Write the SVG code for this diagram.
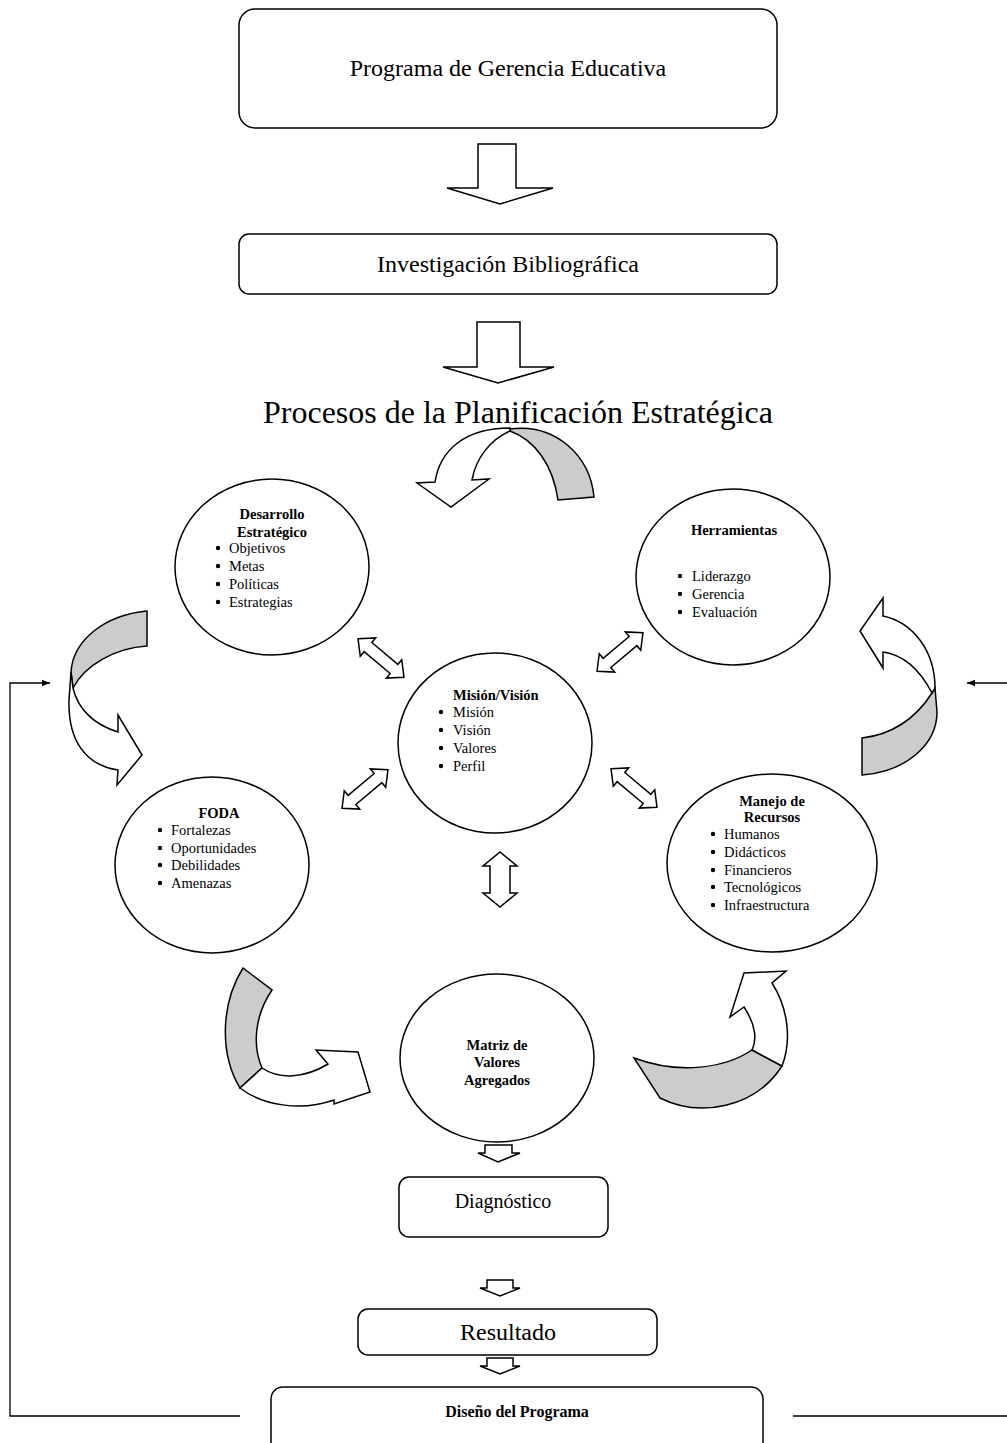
<svg xmlns="http://www.w3.org/2000/svg" width="1007" height="1443" viewBox="0 0 1007 1443">
<defs>
<style>
.box{fill:#fff;stroke:#000;stroke-width:1.5}
.circ{fill:#fff;stroke:#000;stroke-width:1.5}
.blk{fill:#fff;stroke:#000;stroke-width:1.5;stroke-linejoin:miter}
.gray{fill:#cccccc;stroke:#000;stroke-width:1.5}
.t{font-family:"Liberation Serif","Times New Roman",serif;fill:#000}
.c{font-size:14.5px}
.b{font-weight:bold}
.line{fill:none;stroke:#000;stroke-width:1.3}
</style>
<path id="dbl" d="M-30,0 L-17,-12 L-17,-6 L17,-6 L17,-12 L30,0 L17,12 L17,6 L-17,6 L-17,12 Z"/>
<marker id="ah" viewBox="0 0 10 10" refX="10" refY="5" markerWidth="8" markerHeight="8" orient="auto" markerUnits="userSpaceOnUse"><path d="M0,1 L10,5 L0,9 Z" fill="#000"/></marker>
</defs>
<rect width="1007" height="1443" fill="#fff"/>

<g id="n-programa">
<rect class="box" x="239" y="9" width="538" height="119" rx="16"/>
<text class="t" x="508" y="76" font-size="24" text-anchor="middle">Programa de Gerencia Educativa</text>
</g>
<g id="n-investigacion">
<rect class="box" x="239" y="234" width="538" height="60" rx="10"/>
<text class="t" x="508" y="272" font-size="24" text-anchor="middle">Investigación Bibliográfica</text>
</g>
<g id="n-titulo">
<text class="t" x="518" y="423" font-size="32" text-anchor="middle">Procesos de la Planificación Estratégica</text>
</g>

<g id="n-desarrollo">
<ellipse class="circ" cx="272" cy="567" rx="97" ry="88"/>
<text class="t c b" x="272" y="519" text-anchor="middle">Desarrollo</text>
<text class="t c b" x="272" y="537" text-anchor="middle">Estratégico</text>
<g class="t c"><text x="229" y="553">Objetivos</text><text x="229" y="571">Metas</text><text x="229" y="589">Políticas</text><text x="229" y="607">Estrategias</text></g>
<g fill="#000"><circle cx="218" cy="548" r="2.2"/><circle cx="218" cy="566" r="2.2"/><circle cx="218" cy="584" r="2.2"/><circle cx="218" cy="602" r="2.2"/></g>
</g>

<g id="n-herramientas">
<ellipse class="circ" cx="733" cy="577" rx="97" ry="88"/>
<text class="t c b" x="734" y="535" text-anchor="middle">Herramientas</text>
<g class="t c"><text x="692" y="581">Liderazgo</text><text x="692" y="599">Gerencia</text><text x="692" y="617">Evaluación</text></g>
<g fill="#000"><circle cx="680" cy="576" r="2.2"/><circle cx="680" cy="594" r="2.2"/><circle cx="680" cy="612" r="2.2"/></g>
</g>

<g id="n-mision">
<ellipse class="circ" cx="495" cy="743" rx="97" ry="90"/>
<text class="t c b" x="453" y="700">Misión/Visión</text>
<g class="t c"><text x="453" y="717">Misión</text><text x="453" y="735">Visión</text><text x="453" y="753">Valores</text><text x="453" y="771">Perfil</text></g>
<g fill="#000"><circle cx="441" cy="712" r="2.2"/><circle cx="441" cy="730" r="2.2"/><circle cx="441" cy="748" r="2.2"/><circle cx="441" cy="766" r="2.2"/></g>
</g>

<g id="n-foda">
<ellipse class="circ" cx="212" cy="865" rx="97" ry="88"/>
<text class="t c b" x="219" y="818" text-anchor="middle">FODA</text>
<g class="t c"><text x="171" y="835">Fortalezas</text><text x="171" y="853">Oportunidades</text><text x="171" y="870">Debilidades</text><text x="171" y="888">Amenazas</text></g>
<g fill="#000"><circle cx="160" cy="830" r="2.2"/><circle cx="160" cy="848" r="2.2"/><circle cx="160" cy="865" r="2.2"/><circle cx="160" cy="883" r="2.2"/></g>
</g>

<g id="n-manejo">
<ellipse class="circ" cx="772" cy="863" rx="105" ry="89"/>
<text class="t c b" x="772" y="806" text-anchor="middle">Manejo de</text>
<text class="t c b" x="772" y="822" text-anchor="middle">Recursos</text>
<g class="t c"><text x="724" y="839">Humanos</text><text x="724" y="857">Didácticos</text><text x="724" y="875">Financieros</text><text x="724" y="892">Tecnológicos</text><text x="724" y="910">Infraestructura</text></g>
<g fill="#000"><circle cx="713" cy="834" r="2.2"/><circle cx="713" cy="852" r="2.2"/><circle cx="713" cy="870" r="2.2"/><circle cx="713" cy="887" r="2.2"/><circle cx="713" cy="905" r="2.2"/></g>
</g>

<g id="n-matriz">
<ellipse class="circ" cx="497" cy="1058" rx="97" ry="84"/>
<text class="t c b" x="497" y="1050" text-anchor="middle">Matriz de</text>
<text class="t c b" x="497" y="1067" text-anchor="middle">Valores</text>
<text class="t c b" x="497" y="1085" text-anchor="middle">Agregados</text>
</g>

<g id="n-diagnostico">
<rect class="box" x="399" y="1177" width="209" height="60" rx="10"/>
<text class="t" x="503" y="1208" font-size="20" text-anchor="middle">Diagnóstico</text>
</g>
<g id="n-resultado">
<rect class="box" x="358" y="1309" width="299" height="46" rx="10"/>
<text class="t" x="508" y="1340" font-size="24" text-anchor="middle">Resultado</text>
</g>
<g id="n-diseno">
<rect class="box" x="271" y="1387" width="492" height="70" rx="12"/>
<text class="t b" x="517" y="1417" font-size="16" text-anchor="middle">Diseño del Programa</text>
</g>

<g id="connectors">
<path class="blk" d="M478,144 L516,144 L516,188 L553,188 L500,204 L447,188 L478,188 Z"/>
<path class="blk" d="M477,322 L520,322 L520,367 L554,367 L498,383 L443,367 L477,367 Z"/>

<path class="gray" d="M510,429 C555,423 590,455 594,497 L558,500 C553,465 535,440 510,431 Z"/>
<path class="blk" d="M435,482 C440,450 465,428 510,428 L510,431 C490,440 476,458 472,480 L489,479 L451,507 L417,483 Z"/>

<path class="gray" d="M147,611 C105,615 73,640 71,672 L73,688 C85,665 115,648 147,646 Z"/>
<path class="blk" d="M73,688 C78,710 95,725 118,732 L118,715 L142,755 L117,785 L118,770 C85,765 68,740 69,700 L71,672 Z"/>

<path class="gray" d="M932,693 C915,720 890,735 862,738 L862,775 C905,772 937,745 937,712 L935,688 Z"/>
<path class="blk" d="M883,616 C912,622 935,650 935,688 L932,693 C920,670 905,655 883,652 L883,668 L860,631 L883,598 Z"/>

<path class="gray" d="M243,968 L272,990 C255,1015 252,1045 262,1068 L240,1088 C220,1055 220,1005 243,968 Z"/>
<path class="blk" d="M262,1068 C280,1080 305,1078 328,1064 L316,1050 L358,1052 L370,1092 L334,1104 L334,1100 C300,1112 262,1105 240,1088 Z"/>

<path class="gray" d="M634,1058 C680,1075 725,1068 752,1050 L782,1066 C755,1108 700,1118 660,1098 Z"/>
<path class="blk" d="M744,1007 C756,1025 757,1040 752,1050 L782,1066 C792,1040 788,1008 772,983 L786,971 L744,973 L730,1017 Z"/>

<use href="#dbl" class="blk" transform="translate(381,658) rotate(40)"/>
<use href="#dbl" class="blk" transform="translate(620,652) rotate(-40)"/>
<use href="#dbl" class="blk" transform="translate(365,789) rotate(-40)"/>
<use href="#dbl" class="blk" transform="translate(634,788) rotate(40)"/>
<path class="blk" d="M500,852 L517,866 L510,866 L510,893 L517,893 L500,907 L483,893 L490,893 L490,866 L483,866 Z"/>

<path class="blk" d="M485,1145 L512,1145 L512,1153 L520,1153 L498,1162 L478,1153 L485,1153 Z"/>
<path class="blk" d="M487,1280 L513,1280 L513,1288 L520,1288 L500,1296 L480,1288 L487,1288 Z"/>
<path class="blk" d="M487,1358 L513,1358 L513,1366 L520,1366 L500,1374 L480,1366 L487,1366 Z"/>

<polyline class="line" points="240,1416 10,1416 10,683 50,683" marker-end="url(#ah)"/>
<line class="line" x1="793" y1="1416" x2="1007" y2="1416"/>
<line class="line" x1="1007" y1="683" x2="967" y2="683" marker-end="url(#ah)"/>
</g>
</svg>
